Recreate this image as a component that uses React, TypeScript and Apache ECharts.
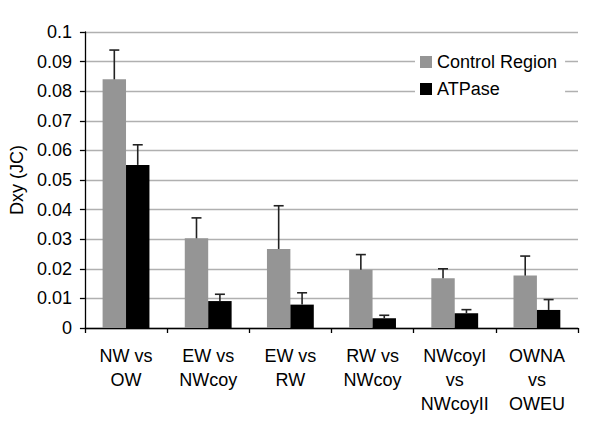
import React, { useEffect, useRef } from "react";
import * as echarts from "echarts";

const categories = ["NW vs\nOW", "EW vs\nNWcoy", "EW vs\nRW", "RW vs\nNWcoy", "NWcoyI\nvs\nNWcoyII", "OWNA\nvs\nOWEU"];
const controlRegion = [0.084, 0.0303, 0.0267, 0.0197, 0.0168, 0.0177];
const controlRegionErr = [0.0099, 0.0069, 0.0146, 0.0051, 0.0032, 0.0066];
const atpase = [0.0551, 0.0091, 0.0079, 0.0033, 0.005, 0.0061];
const atpaseErr = [0.0068, 0.0023, 0.004, 0.001, 0.0012, 0.0035];

const FONT = "'Liberation Sans', Arial, sans-serif";
const CAT_GAP = 0.43;

function errorSeries(values: number[], errs: number[], side: number) {
  return {
    type: "custom",
    silent: true,
    z: 5,
    encode: { x: 0, y: 1 },
    data: values.map((v, i) => [i, v, errs[i]]),
    renderItem: (params: any, api: any) => {
      const idx = api.value(0);
      const v = api.value(1);
      const e = api.value(2);
      const band = api.size([1, 0])[0];
      const barW = (band * (1 - CAT_GAP)) / 2;
      const base = api.coord([idx, v]);
      const top = api.coord([idx, v + e]);
      const x = base[0] + side * barW / 2;
      const cap = 5;
      const style = { stroke: "#222", lineWidth: 1.6 };
      return {
        type: "group",
        children: [
          { type: "line", shape: { x1: x, y1: base[1], x2: x, y2: top[1] }, style },
          { type: "line", shape: { x1: x - cap, y1: top[1], x2: x + cap, y2: top[1] }, style },
        ],
      };
    },
  };
}

export default function App() {
  const ref = useRef<HTMLDivElement>(null);
  useEffect(() => {
    if (!ref.current) return;
    const chart = echarts.init(ref.current, undefined, { renderer: "svg" });
    chart.setOption({
      animation: false,
      backgroundColor: "#fff",
      textStyle: { fontFamily: FONT },
      grid: { left: 84, right: 22, top: 32, bottom: 96, containLabel: false },
      legend: {
        data: ["Control Region", "ATPase"],
        orient: "vertical",
        left: 415,
        top: 48,
        padding: [5, 8, 5, 5],
        backgroundColor: "#fff",
        itemWidth: 12,
        itemHeight: 12,
        itemGap: 9,
        icon: "rect",
        textStyle: { fontSize: 18, color: "#000", fontFamily: FONT, padding: [0, 0, 0, 0] },
        z: 10,
      },
      xAxis: {
        type: "category",
        data: categories,
        axisLine: { lineStyle: { color: "#000", width: 1.3 } },
        axisTick: { show: true, length: 5, lineStyle: { color: "#000", width: 1.3 } },
        axisLabel: { fontSize: 18, color: "#000", margin: 16, lineHeight: 24, fontFamily: FONT, interval: 0 },
      },
      yAxis: {
        type: "value",
        min: 0,
        max: 0.1,
        interval: 0.01,
        name: "Dxy (JC)",
        nameLocation: "middle",
        nameGap: 58,
        nameTextStyle: { fontSize: 18, color: "#000", fontFamily: FONT },
        axisLine: { show: true, lineStyle: { color: "#000", width: 1.3 } },
        axisTick: { show: true, length: 5, lineStyle: { color: "#000", width: 1.3 } },
        axisLabel: {
          fontSize: 18,
          color: "#000",
          margin: 13,
          fontFamily: FONT,
          formatter: (v: number) => String(+v.toFixed(2)),
        },
        splitLine: { show: true, lineStyle: { color: "#b0b0b0", width: 1.3 } },
      },
      series: [
        {
          name: "Control Region",
          type: "bar",
          data: controlRegion,
          itemStyle: { color: "#959595" },
          barGap: "0%",
          barCategoryGap: CAT_GAP * 100 + "%",
        },
        {
          name: "ATPase",
          type: "bar",
          data: atpase,
          itemStyle: { color: "#000" },
          barGap: "0%",
          barCategoryGap: CAT_GAP * 100 + "%",
        },
        errorSeries(controlRegion, controlRegionErr, -1),
        errorSeries(atpase, atpaseErr, 1),
      ],
    });
    return () => chart.dispose();
  }, []);
  return <div ref={ref} style={{ position: "fixed", left: 0, top: 0, width: 600, height: 424 }} />;
}
